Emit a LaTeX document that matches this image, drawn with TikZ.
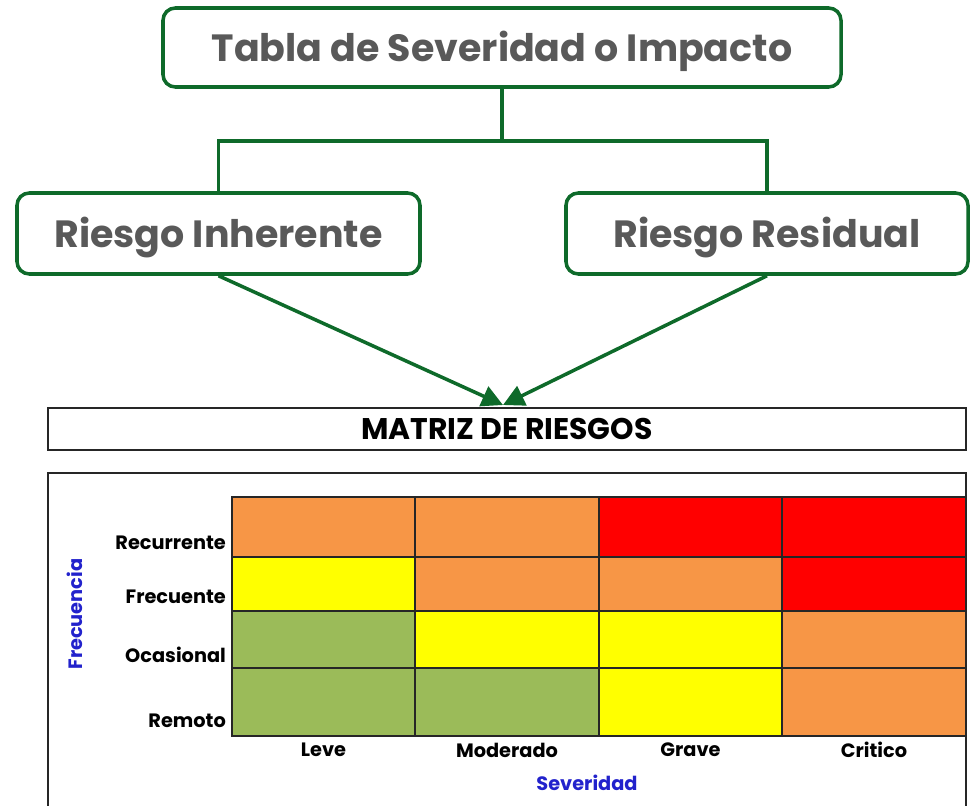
\documentclass[tikz,border=0pt]{standalone}
\usepackage{fontspec}
\setmainfont{Poppins}
\usetikzlibrary{arrows.meta,positioning}
\definecolor{boxgreen}{HTML}{0E6A2A}
\definecolor{txtgray}{HTML}{595959}
\definecolor{axblue}{HTML}{2222CC}
\definecolor{cOr}{HTML}{F79646}
\definecolor{cYe}{HTML}{FFFF00}
\definecolor{cRe}{HTML}{FF0000}
\definecolor{cGr}{HTML}{9BBB59}
\begin{document}
\begin{tikzpicture}
\useasboundingbox (0,0) rectangle (19.42,-16.1);
\tikzstyle{gbox} = [draw=boxgreen,line width=2pt,rounded corners=7pt,fill=white,text=txtgray,font=\fontsize{21.6}{24}\selectfont\bfseries,inner sep=0pt]
\tikzstyle{link} = [draw=boxgreen,line width=2pt]
\tikzstyle{garrow} = [boxgreen,line width=2pt,-{Triangle[length=12pt,width=12pt]}]
\tikzstyle{lab} = [font=\fontsize{11}{13}\selectfont\bfseries,inner sep=1pt]
\tikzstyle{axis} = [lab,text=axblue]
% top of the diagram
\node[gbox,minimum width=13.56cm,minimum height=1.58cm,text depth=0.05cm] (tabla) at (10.04,-0.95) {Tabla de Severidad o Impacto};
\node[gbox,minimum width=8.06cm,minimum height=1.62cm,text depth=0.05cm] (inh) at (4.37,-4.67) {Riesgo Inherente};
\node[gbox,minimum width=8.04cm,minimum height=1.62cm,text depth=0.05cm] (res) at (15.34,-4.67) {Riesgo Residual};
\coordinate (split) at (10.04,-2.82);
\draw[link] (tabla.south) -- (split);
\draw[link] (inh.north) |- (split) -| (res.north);
% title of the matrix
\node[draw=black!85,line width=0.9pt,minimum width=18.36cm,minimum height=0.84cm,font=\fontsize{17}{19}\selectfont\bfseries] (titulo) at (10.14,-8.58) {MATRIZ DE RIESGOS};
\coordinate (tip) at (10.06,-8.1);
\draw[garrow] (inh.south) -- (tip);
\draw[garrow] (res.south) -- (tip);
% matrix
\draw[black!85,line width=0.8pt] (0.96,-16.3) -- (0.96,-9.46) -- (19.32,-9.46) -- (19.32,-16.3);
\foreach \x/\y/\w/\h/\c in {
 4.64/-9.94/3.66/1.20/cOr, 8.30/-9.94/3.68/1.20/cOr, 11.98/-9.94/3.66/1.20/cRe, 15.64/-9.94/3.68/1.20/cRe,
 4.64/-11.14/3.66/1.08/cYe, 8.30/-11.14/3.68/1.08/cOr, 11.98/-11.14/3.66/1.08/cOr, 15.64/-11.14/3.68/1.08/cRe,
 4.64/-12.22/3.66/1.14/cGr, 8.30/-12.22/3.68/1.14/cYe, 11.98/-12.22/3.66/1.14/cYe, 15.64/-12.22/3.68/1.14/cOr,
 4.64/-13.36/3.66/1.36/cGr, 8.30/-13.36/3.68/1.36/cGr, 11.98/-13.36/3.66/1.36/cYe, 15.64/-13.36/3.68/1.36/cOr}
 \draw[fill=\c,draw=black!85,line width=0.6pt] (\x,\y) rectangle ++(\w,-\h);
\node[lab,anchor=east] (rec) at (4.56,-10.86) {Recurrente};
\node[lab,anchor=east] (fre) at (4.56,-11.94) {Frecuente};
\node[lab,anchor=east] (oca) at (4.56,-13.10) {Ocasional};
\node[lab,anchor=east] (rem) at (4.56,-14.42) {Remoto};
\node[lab] (leve) at (6.47,-15.0) {Leve};
\node[lab] (mod) at (10.14,-15.0) {Moderado};
\node[lab] (grav) at (13.81,-15.0) {Grave};
\node[lab] (crit) at (17.48,-15.0) {Critico};
\node[axis] (sev) at (11.74,-15.66) {Severidad};
\node[axis,rotate=90] (frec) at (1.5,-12.28) {Frecuencia};
\end{tikzpicture}
\end{document}
